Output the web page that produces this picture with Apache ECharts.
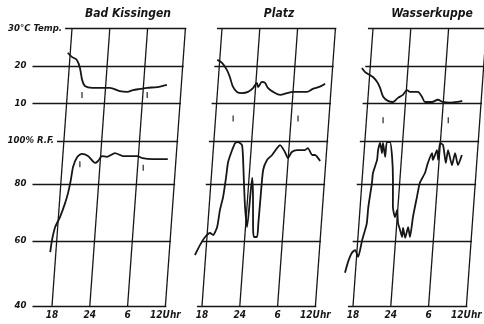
<!DOCTYPE html>
<html>
<head>
<meta charset="utf-8">
<script src="https://cdn.jsdelivr.net/npm/echarts@6/dist/echarts.min.js"></script>
<style>
  html, body { margin: 0; background: #fff; }
  #chart { width: 484px; height: 324px; }
</style>
</head>
<body>
<div id="chart"></div>
<script>
// Zeit in Stunden ab 18 Uhr (0 = 18 Uhr, 18 = 12 Uhr)
const timeTicks = [0, 6, 12, 18];
const timeLabels = ['18', '24', '6', '12Uhr'];
const tempLevels = [30, 20, 10];
const tempLevelLabels = ['30°C Temp.', '20', '10'];
const rhLevels = [100, 80, 60, 40];
const rhLevelLabels = ['100% R.F.', '80', '60', '40'];
const stations = ['Bad Kissingen', 'Platz', 'Wasserkuppe'];

// [Stunde, °C]
const tempBadKissingen = [[-0.4, 23.5], [0.3, 22.4], [1.1, 21.6], [1.7, 19.5], [2.2, 16.2], [2.7, 14.6], [3.9, 14.1], [5.1, 14.1], [6.7, 14.1], [8.3, 13.2], [9.5, 13.0], [10.4, 13.5], [11.5, 13.8], [12.6, 14.1], [14.2, 14.3], [15.7, 14.9]];
const tempPlatz = [[-0.4, 21.6], [0.4, 20.8], [1.25, 18.9], [1.8, 17.0], [2.4, 14.4], [3.1, 13.0], [3.9, 12.7], [4.85, 13.0], [5.6, 14.0], [6.15, 15.4], [6.4, 14.3], [6.95, 15.7], [7.45, 15.4], [8.0, 14.0], [8.85, 13.0], [10.0, 12.2], [11.05, 12.7], [12.0, 13.0], [13.1, 13.0], [14.2, 13.0], [15.1, 13.8], [16.2, 14.4], [17.0, 15.2]];
const tempWasserkuppe = [[-1.3, 19.4], [-0.75, 18.3], [0.05, 17.5], [0.55, 17.0], [1.25, 15.7], [1.8, 14.1], [2.4, 11.7], [3.2, 10.6], [4.0, 10.3], [4.75, 11.4], [5.5, 12.2], [6.1, 13.5], [6.6, 13.0], [7.4, 13.0], [7.85, 13.0], [8.55, 11.7], [9.1, 10.3], [10.2, 10.3], [11.1, 10.9], [11.95, 10.3], [13.1, 10.1], [14.2, 10.3], [15.0, 10.6]];

// [Stunde, % rel. Feuchte]
const rhBadKissingen = [[-0.9, 56.6], [-0.75, 60.4], [-0.4, 64.9], [0.25, 68.4], [0.9, 73.3], [1.25, 76.8], [1.55, 81.9], [1.75, 87.9], [2.3, 92.6], [3.0, 94], [4.0, 93], [5.2, 89.8], [5.65, 90.7], [6.2, 93], [7.0, 92.6], [8.25, 94.4], [9.55, 93], [11.8, 93], [12.7, 92], [14.3, 91.6], [16.7, 91.6]];
const rhPlatz = [[-1.7, 55.7], [-1.0, 58.8], [-0.3, 61.4], [0.45, 62.8], [0.95, 62.1], [1.5, 64.9], [1.75, 70.9], [2.1, 75.4], [2.35, 83.3], [2.5, 90.2], [3.0, 95.8], [3.4, 99.1], [3.85, 99.5], [4.5, 98.1], [4.8, 92.6], [5.2, 81.9], [5.7, 71.9], [6.25, 64.9], [6.5, 82.8], [6.85, 75.4], [7.2, 64.9], [7.45, 61.4], [7.95, 61.4], [8.0, 66.3], [8.05, 75.4], [8.15, 86.5], [8.65, 91.2], [9.4, 93.5], [10.1, 96.7], [10.55, 98.1], [11.4, 94.9], [11.95, 92.1], [12.5, 94.9], [13.3, 95.8], [14.55, 95.8], [15.0, 96.7], [15.75, 93.5], [16.2, 93.5], [17.1, 90.7]];
const rhWasserkuppe = [[-1.65, 50.2], [-1.3, 53.5], [-0.8, 56.3], [-0.3, 57.2], [0.25, 55.1], [0.7, 60.3], [1.05, 63.9], [1.25, 66.3], [1.3, 71.9], [1.6, 80.5], [1.65, 85.1], [2.15, 91.2], [2.2, 95.8], [2.45, 99.1], [2.85, 94.4], [2.9, 99.1], [3.4, 92.6], [3.5, 99.5], [4.0, 99.5], [4.5, 92.6], [4.9, 81.9], [5.2, 71.9], [5.65, 68.4], [5.9, 70.9], [6.2, 66.3], [6.6, 63.9], [7.0, 61.4], [7.05, 64.6], [7.5, 61.1], [7.85, 64.9], [8.25, 61.4], [8.5, 68.4], [8.9, 75.4], [9.2, 80.5], [9.9, 85.1], [10.25, 89.8], [10.8, 94.4], [11.0, 91.2], [11.55, 95.8], [11.85, 91.2], [11.95, 99.1], [12.45, 98.1], [13.1, 89.8], [13.3, 95.8], [14.1, 88.8], [14.45, 94.4], [15.05, 88.8], [15.55, 93.5]];

// kleine Striche (Sonnenunter-/aufgang)
const marksTempBadKissingen = [[2.35, 12.2], [12.7, 12.2]];
const marksRhBadKissingen = [[2.8, 89.2], [12.9, 87.6]];
const marksTempPlatz = [[2.8, 5.9], [13.1, 5.9]];
const marksTempWasserkuppe = [[2.65, 5.4], [13.0, 5.4]];

const FONT = "'DejaVu Sans Condensed', 'DejaVu Sans', sans-serif";
const INK = '#161616';

// Papier-Geometrie: 1 y-Einheit = 1 px, schraege Zeitlinien
const PX_PER_H = 6.3;
const TOP_Y = 277.5;
const SKEW = 20 / PX_PER_H / TOP_Y;
const X0 = [52, 202, 353];
const BOTTOM = 306;
const X_MIN = -6, X_MAX = 24;
const RH_STOPS = [40, 60, 80, 100];
const RH_Y = [0, 65, 122, 165];

function yTemp(T) {
  return TOP_Y - (30 - T) * 3.73;
}
function yRh(h) {
  for (let i = 1; i < RH_STOPS.length; i++) {
    if (h <= RH_STOPS[i] || i === RH_STOPS.length - 1) {
      const a = RH_STOPS[i - 1], b = RH_STOPS[i];
      return RH_Y[i - 1] + (h - a) / (b - a) * (RH_Y[i] - RH_Y[i - 1]);
    }
  }
}
function pt(t, y) {
  return [t + SKEW * y, y];
}

const panels = [
  { temp: tempBadKissingen, rh: rhBadKissingen, tMarks: marksTempBadKissingen, rMarks: marksRhBadKissingen },
  { temp: tempPlatz, rh: rhPlatz, tMarks: marksTempPlatz, rMarks: [] },
  { temp: tempWasserkuppe, rh: rhWasserkuppe, tMarks: marksTempWasserkuppe, rMarks: [] }
];

function gridLines(i) {
  const lines = timeTicks.map((t) => [{ coord: pt(t, 0), label: { show: false } }, { coord: pt(t, TOP_Y) }]);
  const levels = tempLevels.map((v, k) => ({ y: yTemp(v), text: tempLevelLabels[k], first: k === 0 }))
    .concat(rhLevels.map((v, k) => ({ y: yRh(v), text: rhLevelLabels[k], first: k === 0 })));
  levels.forEach((lv) => {
    let start;
    if (i === 0) start = lv.first ? SKEW * lv.y - 1.1 : -3.1;
    else start = SKEW * lv.y - 0.8;
    const end = 18 + SKEW * lv.y + 0.15;
    lines.push([
      {
        coord: [start, lv.y],
        label: i === 0
          ? { show: true, formatter: lv.text, distance: lv.first ? 3 : 6 }
          : { show: false }
      },
      { coord: [end, lv.y] }
    ]);
  });
  return lines;
}

const grids = [], xAxes = [], yAxes = [], series = [];
panels.forEach((p, i) => {
  grids.push({
    left: X0[i] + X_MIN * PX_PER_H, width: (X_MAX - X_MIN) * PX_PER_H,
    top: BOTTOM - 280, height: 280,
    outerBoundsMode: 'none', containLabel: false
  });
  xAxes.push({
    gridIndex: i, type: 'value', min: X_MIN, max: X_MAX, interval: 6,
    axisLine: { show: false }, axisTick: { show: false }, splitLine: { show: false },
    axisLabel: {
      margin: 4, fontSize: 10, fontStyle: 'italic', fontWeight: 'bold', fontFamily: FONT, color: INK,
      formatter: (v) => {
        const k = timeTicks.indexOf(v);
        return k >= 0 ? timeLabels[k] : '';
      }
    }
  });
  yAxes.push({ gridIndex: i, type: 'value', min: 0, max: 280, show: false });

  series.push({
    type: 'line', xAxisIndex: i, yAxisIndex: i, clip: false,
    data: p.temp.map(([t, T]) => pt(t, yTemp(T))),
    showSymbol: false, smooth: 0.3,
    lineStyle: { color: INK, width: 1.8 },
    markLine: {
      silent: true, symbol: ['none', 'none'], animation: false,
      lineStyle: { color: INK, width: 1.3, type: 'solid' },
      label: {
        position: 'start', fontSize: 9.5, fontStyle: 'italic', fontWeight: 'bold',
        fontFamily: FONT, color: INK
      },
      data: gridLines(i)
    }
  });
  series.push({
    type: 'line', xAxisIndex: i, yAxisIndex: i, clip: false,
    data: p.rh.map(([t, h]) => pt(t, yRh(h))),
    showSymbol: false, smooth: 0.2,
    lineStyle: { color: INK, width: 1.8 }
  });
  series.push({
    type: 'scatter', xAxisIndex: i, yAxisIndex: i, silent: true, clip: false,
    symbol: 'rect', symbolSize: [1.4, 6],
    itemStyle: { color: INK },
    data: p.tMarks.map(([t, T]) => pt(t, yTemp(T)))
      .concat(p.rMarks.map(([t, h]) => pt(t, yRh(h))))
  });
});

const titleX = [128, 279, 432];
const chart = echarts.init(document.getElementById('chart'));
chart.setOption({
  animation: false,
  backgroundColor: '#fff',
  title: stations.map((s, i) => ({
    text: s, left: titleX[i], top: 8, textAlign: 'center', padding: 0,
    textStyle: { fontSize: 12, fontStyle: 'italic', fontWeight: 'bold', fontFamily: FONT, color: INK }
  })),
  grid: grids,
  xAxis: xAxes,
  yAxis: yAxes,
  series: series
});
</script>
</body>
</html>
